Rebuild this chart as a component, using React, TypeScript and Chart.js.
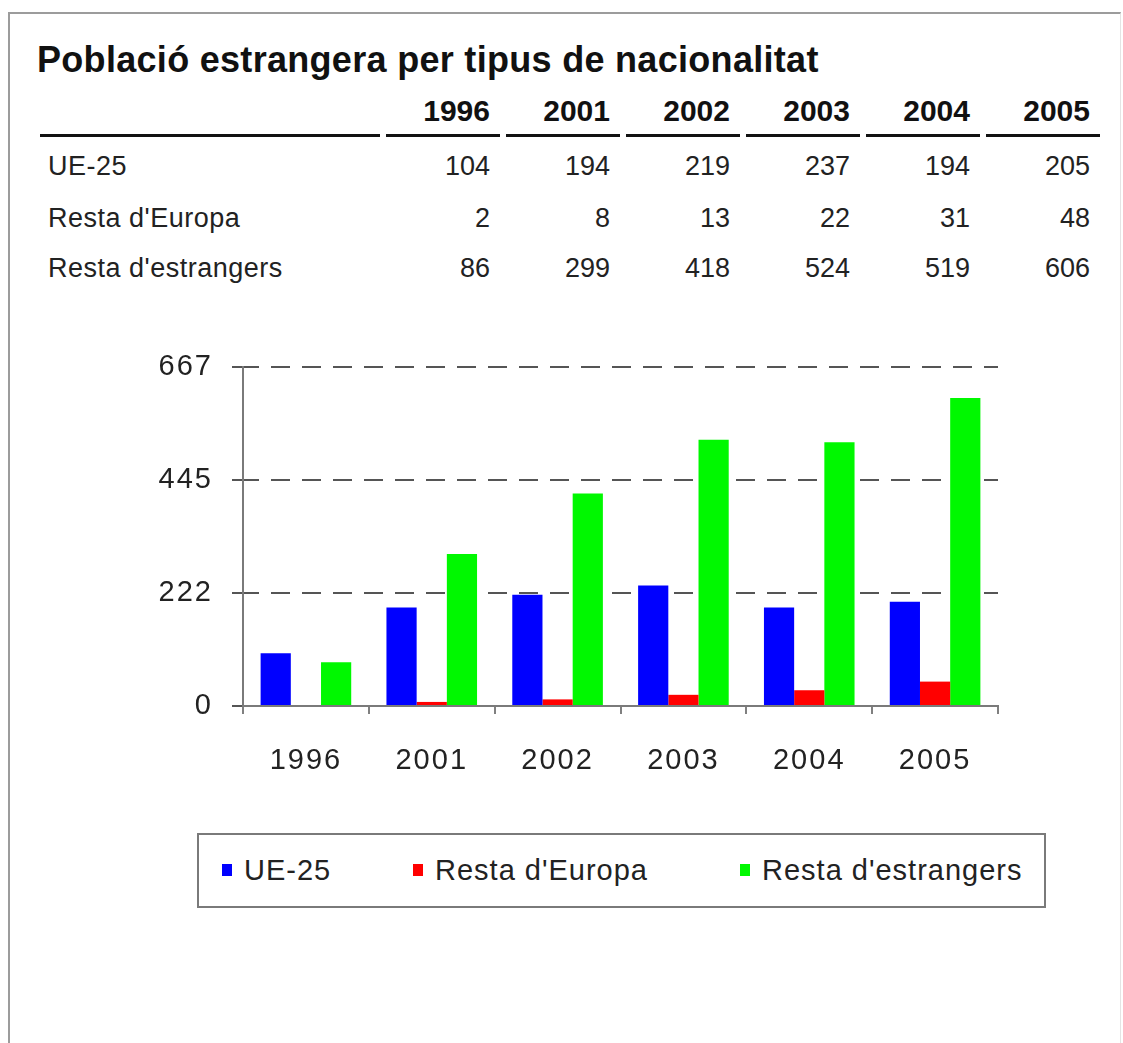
import React, { useEffect, useRef } from 'react';
import { Chart, registerables } from 'chart.js';

Chart.register(...registerables);

const titleText = 'Població estrangera per tipus de nacionalitat';
const years = ['1996', '2001', '2002', '2003', '2004', '2005'];
const seriesNames = ['UE-25', "Resta d'Europa", "Resta d'estrangers"];
const ue25 = [104, 194, 219, 237, 194, 205];
const restaEuropa = [2, 8, 13, 22, 31, 48];
const restaEstrangers = [86, 299, 418, 524, 519, 606];
const seriesColors = ['#0000ff', '#ff0000', '#00f800'];
const yTicks = [0, 222, 445, 667];

const seriesValues = [ue25, restaEuropa, restaEstrangers];

const FONT = '"Liberation Sans", Arial, Helvetica, sans-serif';

const spacingPlugin = {
  id: 'letterSpacing',
  beforeDraw(chart: any) {
    try {
      (chart.ctx as any).letterSpacing = '2px';
    } catch (e) {
      /* ignore */
    }
  },
};

function BarChart() {
  const ref = useRef<HTMLCanvasElement | null>(null);
  useEffect(() => {
    if (!ref.current) return;
    const chart = new Chart(ref.current, {
      type: 'bar',
      data: {
        labels: years,
        datasets: seriesNames.map((name, i) => ({
          label: name,
          data: seriesValues[i],
          backgroundColor: seriesColors[i],
          borderWidth: 0,
          barPercentage: 1.0,
          categoryPercentage: 0.72,
        })),
      },
      options: {
        responsive: false,
        animation: false,
        devicePixelRatio: 1,
        layout: { padding: { top: 37, right: 22, left: 0, bottom: 0 } },
        plugins: {
          legend: { display: false },
          title: { display: false },
          tooltip: { enabled: false },
        },
        scales: {
          x: {
            afterFit: (scale: any) => {
              scale.height = 94;
            },
            grid: {
              display: true,
              drawOnChartArea: false,
              offset: true,
              tickLength: 8,
              color: '#808080',
              lineWidth: 2,
            },
            border: { display: true, color: '#7a7a7a', width: 2 },
            ticks: {
              padding: 30,
              color: '#222222',
              font: { family: FONT, size: 29 },
              maxRotation: 0,
            },
          },
          y: {
            min: 0,
            max: 667,
            afterFit: (scale: any) => {
              scale.width = 143;
            },
            afterBuildTicks: (scale: any) => {
              scale.ticks = yTicks.map((v) => ({ value: v }));
            },
            grid: {
              display: true,
              drawOnChartArea: true,
              color: '#555555',
              lineWidth: 2,
              tickLength: 11,
              tickColor: '#555555',
              tickBorderDash: [],
            } as any,
            border: { display: true, color: '#7a7a7a', width: 2, dash: [19, 12], dashOffset: 4 },
            ticks: {
              padding: 19,
              color: '#222222',
              font: { family: FONT, size: 29 },
              callback: (v: any) => String(v),
            },
          },
        },
      },
      plugins: [spacingPlugin],
    });
    return () => chart.destroy();
  }, []);
  return (
    <canvas
      ref={ref}
      width={920}
      height={470}
      style={{ position: 'absolute', left: 100, top: 330, width: 920, height: 470 }}
    />
  );
}

const colLefts = [386, 506, 626, 746, 866, 986];
const colWidth = 114;
const rowTops = [153, 205, 255];

export default function App() {
  return (
    <div
      style={{
        position: 'absolute',
        left: 0,
        top: 0,
        width: 1123,
        height: 1043,
        overflow: 'hidden',
        background: '#ffffff',
        fontFamily: FONT,
      }}
    >
      <div
        style={{
          position: 'absolute',
          left: 8,
          top: 12,
          width: 1110,
          height: 1100,
          borderTop: '2px solid #9c9c9c',
          borderLeft: '2px solid #9c9c9c',
          borderRight: '1px solid #e4e4e4',
        }}
      />
      <div
        style={{
          position: 'absolute',
          left: 37,
          top: 42,
          fontSize: 36,
          lineHeight: '36px',
          letterSpacing: '0.3px',
          fontWeight: 'bold',
          color: '#111',
          whiteSpace: 'nowrap',
        }}
      >
        {titleText}
      </div>
      {/* table header underline for label column */}
      <div style={{ position: 'absolute', left: 40, top: 134, width: 340, height: 3, background: '#111' }} />
      {years.map((y, j) => (
        <div key={y}>
          <div
            style={{
              position: 'absolute',
              left: colLefts[j],
              top: 96,
              width: colWidth - 10,
              textAlign: 'right',
              fontSize: 30,
              lineHeight: '30px',
              fontWeight: 'bold',
              color: '#111',
            }}
          >
            {y}
          </div>
          <div
            style={{
              position: 'absolute',
              left: colLefts[j],
              top: 134,
              width: colWidth,
              height: 3,
              background: '#111',
            }}
          />
        </div>
      ))}
      {seriesNames.map((name, i) => (
        <div key={name}>
          <div
            style={{
              position: 'absolute',
              left: 48,
              top: rowTops[i],
              fontSize: 27,
              lineHeight: '27px',
              letterSpacing: '0.5px',
              color: '#222',
              whiteSpace: 'nowrap',
            }}
          >
            {name}
          </div>
          {seriesValues[i].map((v, j) => (
            <div
              key={j}
              style={{
                position: 'absolute',
                left: colLefts[j],
                top: rowTops[i],
                width: colWidth - 10,
                textAlign: 'right',
                fontSize: 27,
                lineHeight: '27px',
                color: '#222',
              }}
            >
              {v}
            </div>
          ))}
        </div>
      ))}
      <BarChart />
      {/* legend */}
      <div
        style={{
          position: 'absolute',
          left: 197,
          top: 833,
          width: 845,
          height: 71,
          border: '2px solid #7a7a7a',
        }}
      />
      {seriesNames.map((name, i) => {
        const markerX = [222, 413, 740][i];
        return (
          <div key={'lg' + name}>
            <div
              style={{
                position: 'absolute',
                left: markerX,
                top: 864,
                width: 10,
                height: 12,
                background: seriesColors[i],
              }}
            />
            <div
              style={{
                position: 'absolute',
                left: markerX + 22,
                top: 856,
                fontSize: 29,
                lineHeight: '29px',
                letterSpacing: '1px',
                color: '#222',
                whiteSpace: 'nowrap',
              }}
            >
              {name}
            </div>
          </div>
        );
      })}
    </div>
  );
}
